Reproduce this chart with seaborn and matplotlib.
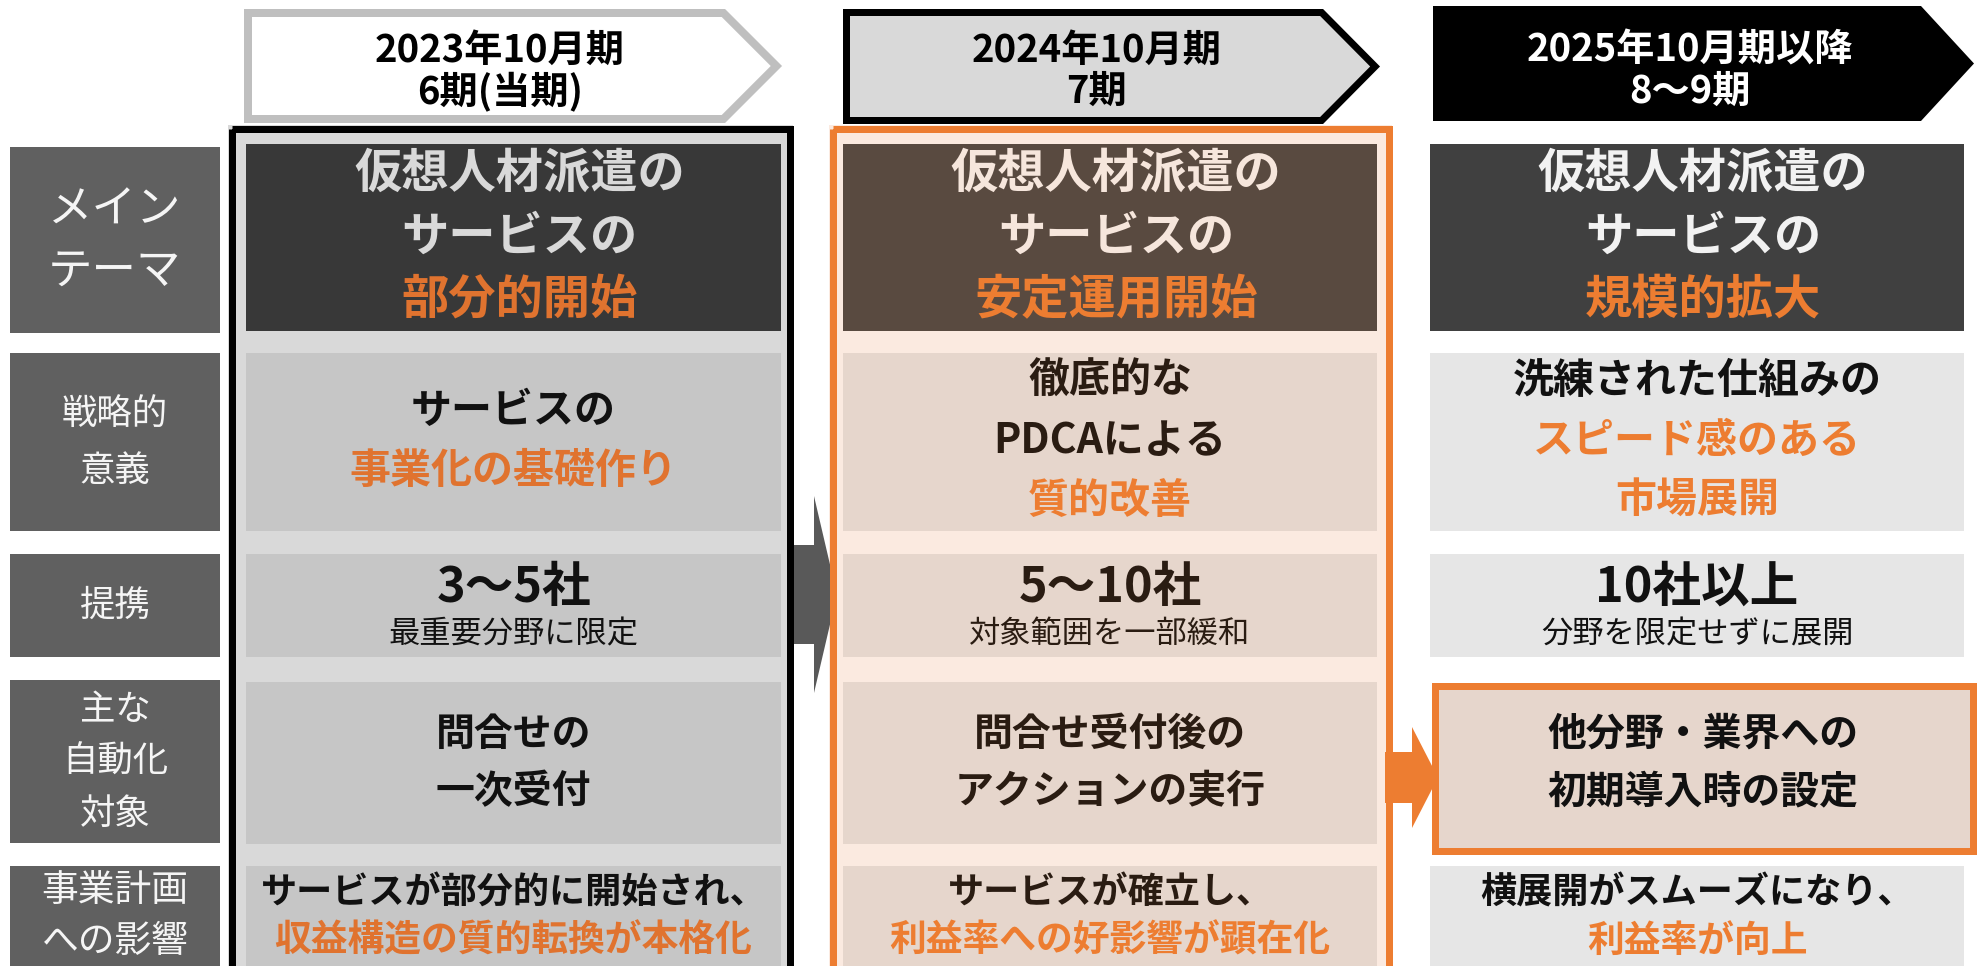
import matplotlib
matplotlib.use("Agg")
import matplotlib.pyplot as plt
from matplotlib.patches import Rectangle, Polygon
import seaborn as sns

# ---------------- data ----------------
periods = ["2023年10月期\n6期(当期)", "2024年10月期\n7期", "2025年10月期以降\n8～9期"]
row_labels = ["メイン\nテーマ", "戦略的\n意義", "提携", "主な\n自動化\n対象", "事業計画\nへの影響"]

theme_base = ["仮想人材派遣の\nサービスの"] * 3
theme_focus = ["部分的開始", "安定運用開始", "規模的拡大"]

strategy_plain = ["サービスの", "徹底的な\nPDCAによる", "洗練された仕組みの"]
strategy_focus = ["事業化の基礎作り", "質的改善", "スピード感のある\n市場展開"]

alliance_count = ["3～5社", "5～10社", "10社以上"]
alliance_note = ["最重要分野に限定", "対象範囲を一部緩和", "分野を限定せずに展開"]

automation = ["問合せの\n一次受付", "問合せ受付後の\nアクションの実行", "他分野・業界への\n初期導入時の設定"]

impact_lead = ["サービスが部分的に開始され、", "サービスが確立し、", "横展開がスムーズになり、"]
impact_result = ["収益構造の質的転換が本格化", "利益率への好影響が顕在化", "利益率が向上"]

# ---------------- style ----------------
sns.set_theme(style="white")
plt.rcParams["font.family"] = ["Noto Sans CJK JP", "DejaVu Sans"]

ORANGE = "#ed7d31"
LABEL_BG = "#606060"
main_bg = ["#383838", "#594a40", "#404040"]
cell_bg = ["#c6c6c6", "#e6d6cc", "#e6e6e6"]
main_fg = ["#d9d9d9", "#f6e6dc", "#f2f2f2"]
cell_fg = ["#111111", "#2a1c12", "#111111"]
focus_fg = ["#e0732f", ORANGE, ORANGE]

W, H = 1978, 966
fig = plt.figure(figsize=(W / 100, H / 100), dpi=100)
ax = fig.add_axes([0, 0, 1, 1])
ax.set_xlim(0, W)
ax.set_ylim(H, 0)
ax.axis("off")

PX = 0.72  # pixel -> point


def rect(x0, y0, x1, y1, fc, ec="none", lw=0, z=1):
    if lw:
        h = lw / 2
        r = Rectangle((x0 + h, y0 + h), x1 - x0 - lw, y1 - y0 - lw, facecolor=fc,
                      edgecolor=ec, linewidth=lw * PX, zorder=z, joinstyle="miter")
    else:
        r = Rectangle((x0, y0), x1 - x0, y1 - y0, facecolor=fc, edgecolor="none", zorder=z)
    ax.add_patch(r)


def chevron(x0, y0, xb, xt, y1, fc, ec="none", lw=0, z=2):
    h = lw / 2
    ym = (y0 + y1) / 2
    pts = [(x0 + h, y0 + h), (xb - h * 0.4, y0 + h), (xt - h * 1.4, ym),
           (xb - h * 0.4, y1 - h), (x0 + h, y1 - h)]
    ax.add_patch(Polygon(pts, closed=True, facecolor=fc, edgecolor=ec,
                         linewidth=lw * PX, zorder=z, joinstyle="miter"))


def arrow(xb0, xh, xt, yb0, yb1, yh0, yh1, color, z=5):
    ym = (yh0 + yh1) / 2
    pts = [(xb0, yb0), (xh, yb0), (xh, yh0), (xt, ym), (xh, yh1), (xh, yb1), (xb0, yb1)]
    ax.add_patch(Polygon(pts, closed=True, facecolor=color, edgecolor="none", zorder=z))


def txt(x, y, s, size, color, weight="bold", z=10):
    ax.text(x, y, s, ha="center", va="center", fontsize=size, color=color,
            fontweight=weight, zorder=z, linespacing=1.0)


# ---------------- headers ----------------
chevron(244, 9, 725, 782, 123, "white", "#bfbfbf", 8)
chevron(843, 9, 1323, 1380, 124, "#d9d9d9", "black", 7)
chevron(1433, 6, 1921, 1974, 121, "black", "none", 0)
head_x = [500, 1097, 1690]
head_col = ["black", "black", "white"]
for i, p in enumerate(periods):
    l1, l2 = p.split("\n")
    txt(head_x[i], 50, l1, 27.5, head_col[i])
    txt(head_x[i], 91, l2, 27.5, head_col[i])

# ---------------- column frames ----------------
rect(228, 125, 793, 990, "#d9d9d9", z=1)
rect(228, 125, 793, 990, "none", "black", 7, z=6)
rect(829, 125, 1392, 990, "#fbeae0", z=1)
rect(829, 125, 1392, 990, "none", ORANGE, 7, z=6)

# ---------------- row label boxes ----------------
row_y = [(144, 331), (353, 531), (554, 657), (682, 844), (866, 980)]
label_y = [(147, 333), (353, 531), (554, 657), (680, 843), (866, 980)]
label_size = [32, 25.5, 25.5, 25.5, 26.5]
label_gap = [61, 57, 0, 52, 51]
for (y0, y1), lab, fs, gap in zip(label_y, row_labels, label_size, label_gap):
    rect(10, y0, 220, y1, LABEL_BG, z=2)
    lines = lab.split("\n")
    cy = (y0 + min(y1, 966)) / 2
    n = len(lines)
    for k, s in enumerate(lines):
        txt(115, cy + (k - (n - 1) / 2) * gap, s, fs, "#f5f5f5", weight="normal")

# ---------------- cells ----------------
col_x = [(246, 781), (843, 1377), (1430, 1964)]
for c, (x0, x1) in enumerate(col_x):
    cx = (x0 + x1) / 2
    for r, (y0, y1) in enumerate(row_y):
        fc = main_bg[c] if r == 0 else cell_bg[c]
        if not (c == 2 and r == 3):
            rect(x0, y0, x1, y1, fc, z=2)

    # main theme
    lines = [(s, main_fg[c]) for s in theme_base[c].split("\n")] + [(theme_focus[c], focus_fg[c])]
    for k, (s, col) in enumerate(lines):
        txt(cx + 6, 174 + k * 63, s, 34, col)

    # strategic meaning
    lines = [(s, cell_fg[c]) for s in strategy_plain[c].split("\n")] + \
            [(s, focus_fg[c]) for s in strategy_focus[c].split("\n")]
    n = len(lines)
    for k, (s, col) in enumerate(lines):
        txt(cx, 441 + (k - (n - 1) / 2) * 60, s, 29.5, col)

    # alliance
    txt(cx, 587, alliance_count[c], 35, cell_fg[c])
    txt(cx, 634, alliance_note[c], 22.5, cell_fg[c], weight="normal")

    # automation target
    lines = automation[c].split("\n")
    cx_a = 1703 if c == 2 else cx
    for k, s in enumerate(lines):
        txt(cx_a, 734 + k * 58, s, 28, cell_fg[c])

    # impact on business plan
    txt(cx, 893, impact_lead[c], 26, cell_fg[c])
    txt(cx, 941, impact_result[c], 26.5, focus_fg[c])

# highlighted box in third column (automation row)
rect(1431, 682, 1976, 854, "#e6d6cc", ORANGE, 7, z=3)

# ---------------- transition arrows ----------------
arrow(791, 814, 837, 545, 644, 496, 693, "#595959", z=5)
arrow(1385, 1412, 1438, 752, 803, 727, 828, ORANGE, z=5)

fig.savefig("out.png", dpi=100)
